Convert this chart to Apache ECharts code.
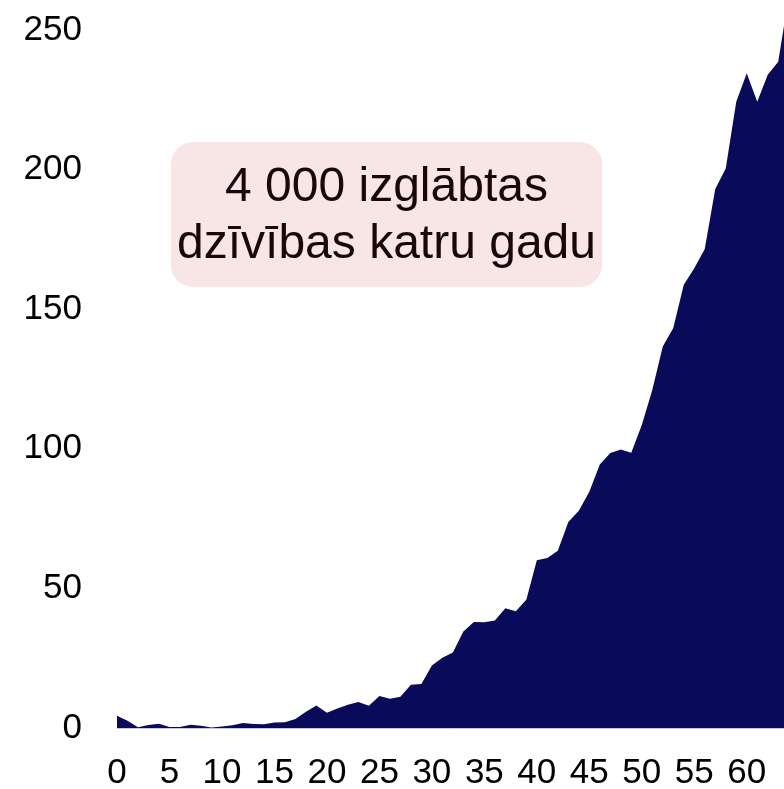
<!DOCTYPE html>
<html>
<head>
<meta charset="utf-8">
<script src="https://cdn.jsdelivr.net/npm/echarts@6/dist/echarts.min.js"></script>
<style>
html,body{margin:0;padding:0;background:#fff;}
#chart{width:784px;height:789px;}
</style>
</head>
<body>
<div id="chart"></div>
<script>
// Age (x) and values (y)
var ages = [0,1,2,3,4,5,6,7,8,9,10,11,12,13,14,15,16,17,18,19,20,21,22,23,24,25,26,27,28,29,30,31,32,33,34,35,36,37,38,39,40,41,42,43,44,45,46,47,48,49,50,51,52,53,54,55,56,57,58,59,60,61,62,63,64];
var values = [4.4,2.6,0.3,1.1,1.5,0.4,0.4,1.2,0.8,0.2,0.5,1.0,1.8,1.4,1.3,2.0,2.1,3.2,5.8,8.1,5.5,7.0,8.3,9.3,8.0,11.5,10.5,11.2,15.5,15.8,22.4,25.2,27.0,34.6,38.0,37.9,38.5,42.9,41.8,45.9,60.1,60.9,63.5,73.8,77.8,84.6,94.4,98.5,99.7,98.6,108.5,121,136.6,143.2,158.7,164.6,171.5,193,200.4,224.3,234.5,224.3,233.9,238.6,262];
var annotationLines = ['4 000 izglābtas', 'dzīvības katru gadu'];

var seriesData = ages.map(function(a, i){ return [a, values[i]]; });

var chart = echarts.init(document.getElementById('chart'), null, {renderer:'canvas'});
chart.setOption({
  animation: false,
  backgroundColor: '#ffffff',
  grid: {left: 117, right: 0, top: 0, bottom: 61, containLabel: false, outerBoundsMode: 'none'},
  xAxis: {
    type: 'value', min: 0, max: 63.55, interval: 5,
    axisLine: {show: true, lineStyle: {color: '#c8c8d4', width: 1}},
    axisTick: {show: false},
    splitLine: {show: false},
    axisLabel: {showMaxLabel: false, margin: 28, color: '#000', fontFamily: 'Liberation Sans', fontSize: 35}
  },
  yAxis: {
    type: 'value', min: 0, max: 260.7, interval: 50,
    axisLine: {show: false},
    axisTick: {show: false},
    splitLine: {show: false},
    axisLabel: {showMaxLabel: false, margin: 35, color: '#000', fontFamily: 'Liberation Sans', fontSize: 35}
  },
  series: [{
    type: 'line',
    data: seriesData,
    showSymbol: false,
    symbol: 'none',
    lineStyle: {width: 0},
    areaStyle: {color: '#0a0a5b', opacity: 1},
    clip: true
  }],
  graphic: [{
    type: 'group',
    left: 171, top: 142,
    children: [{
      type: 'rect',
      shape: {x: 0, y: 0, width: 431, height: 145, r: 22},
      style: {fill: '#f8e5e5'}
    }, {
      type: 'text',
      x: 215.5, y: 74,
      style: {
        text: annotationLines.join('\n'),
        fill: '#1a0808',
        font: '48px "Liberation Sans"',
        align: 'center',
        verticalAlign: 'middle',
        lineHeight: 57
      }
    }]
  }]
});
</script>
</body>
</html>
